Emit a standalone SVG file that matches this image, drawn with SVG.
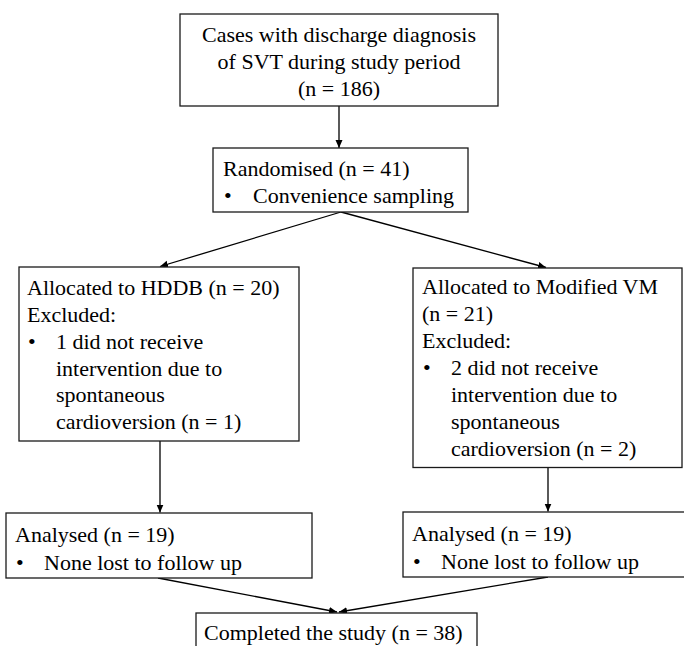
<svg xmlns="http://www.w3.org/2000/svg" width="684" height="646" viewBox="0 0 684 646">
<style>
  .box { fill: #fff; stroke: #1a1a1a; stroke-width: 1.3; }
  .t { font-family: "Liberation Serif", "Times New Roman", serif; font-size: 22px; fill: #000; }
  .c { text-anchor: middle; }
  .edge { fill: none; stroke: #000; stroke-width: 1.3; }
</style>
<defs>
  <marker id="arr" markerUnits="userSpaceOnUse" markerWidth="9" markerHeight="8" refX="8" refY="3.5" orient="auto">
    <path d="M0,0 L8,3.5 L0,7 z" fill="#000"/>
  </marker>
</defs>
<rect width="684" height="646" fill="#fff"/>

<g id="connectors">
  <line class="edge" x1="339" y1="106" x2="339" y2="148" marker-end="url(#arr)"/>
  <line class="edge" x1="341" y1="212" x2="160" y2="266.5" marker-end="url(#arr)"/>
  <line class="edge" x1="341" y1="212" x2="546" y2="267.5" marker-end="url(#arr)"/>
  <line class="edge" x1="160" y1="441" x2="160" y2="512.5" marker-end="url(#arr)"/>
  <line class="edge" x1="548" y1="467.5" x2="548" y2="511.5" marker-end="url(#arr)"/>
  <line class="edge" x1="158" y1="578" x2="337" y2="612" marker-end="url(#arr)"/>
  <line class="edge" x1="548" y1="577" x2="339" y2="612" marker-end="url(#arr)"/>
</g>

<g id="node-cases">
  <rect class="box" x="180" y="14" width="318" height="92"/>
  <text class="t c" x="339" y="42">Cases with discharge diagnosis</text>
  <text class="t c" x="339" y="69">of SVT during study period</text>
  <text class="t c" x="339" y="96">(n = 186)</text>
</g>

<g id="node-randomised">
  <rect class="box" x="213" y="148" width="255" height="64"/>
  <text class="t" x="223" y="176">Randomised (n = 41)</text>
  <text class="t" x="224" y="203">•</text>
  <text class="t" x="253" y="203">Convenience sampling</text>
</g>

<g id="node-hddb">
  <rect class="box" x="19" y="267" width="280" height="174"/>
  <text class="t" x="27" y="295">Allocated to HDDB (n = 20)</text>
  <text class="t" x="27" y="322">Excluded:</text>
  <text class="t" x="28" y="348.5">•</text>
  <text class="t" x="56" y="348.5">1 did not receive</text>
  <text class="t" x="56" y="375.5">intervention due to</text>
  <text class="t" x="56" y="402">spontaneous</text>
  <text class="t" x="56" y="429">cardioversion (n = 1)</text>
</g>

<g id="node-vm">
  <rect class="box" x="413" y="268" width="269" height="199.5"/>
  <text class="t" x="422" y="294">Allocated to Modified VM</text>
  <text class="t" x="422" y="321">(n = 21)</text>
  <text class="t" x="422" y="348">Excluded:</text>
  <text class="t" x="423" y="375">•</text>
  <text class="t" x="451" y="375">2 did not receive</text>
  <text class="t" x="451" y="402">intervention due to</text>
  <text class="t" x="451" y="429">spontaneous</text>
  <text class="t" x="451" y="456">cardioversion (n = 2)</text>
</g>

<g id="node-analysed-left">
  <rect class="box" x="6" y="513" width="306" height="65"/>
  <text class="t" x="15" y="542">Analysed (n = 19)</text>
  <text class="t" x="16" y="570">•</text>
  <text class="t" x="44" y="570">None lost to follow up</text>
</g>

<g id="node-analysed-right">
  <rect class="box" x="403" y="512" width="290" height="65"/>
  <text class="t" x="412" y="541">Analysed (n = 19)</text>
  <text class="t" x="413" y="569">•</text>
  <text class="t" x="441" y="569">None lost to follow up</text>
</g>

<g id="node-completed">
  <rect class="box" x="196" y="613" width="281" height="50"/>
  <text class="t" x="204" y="640">Completed the study (n = 38)</text>
</g>
</svg>
